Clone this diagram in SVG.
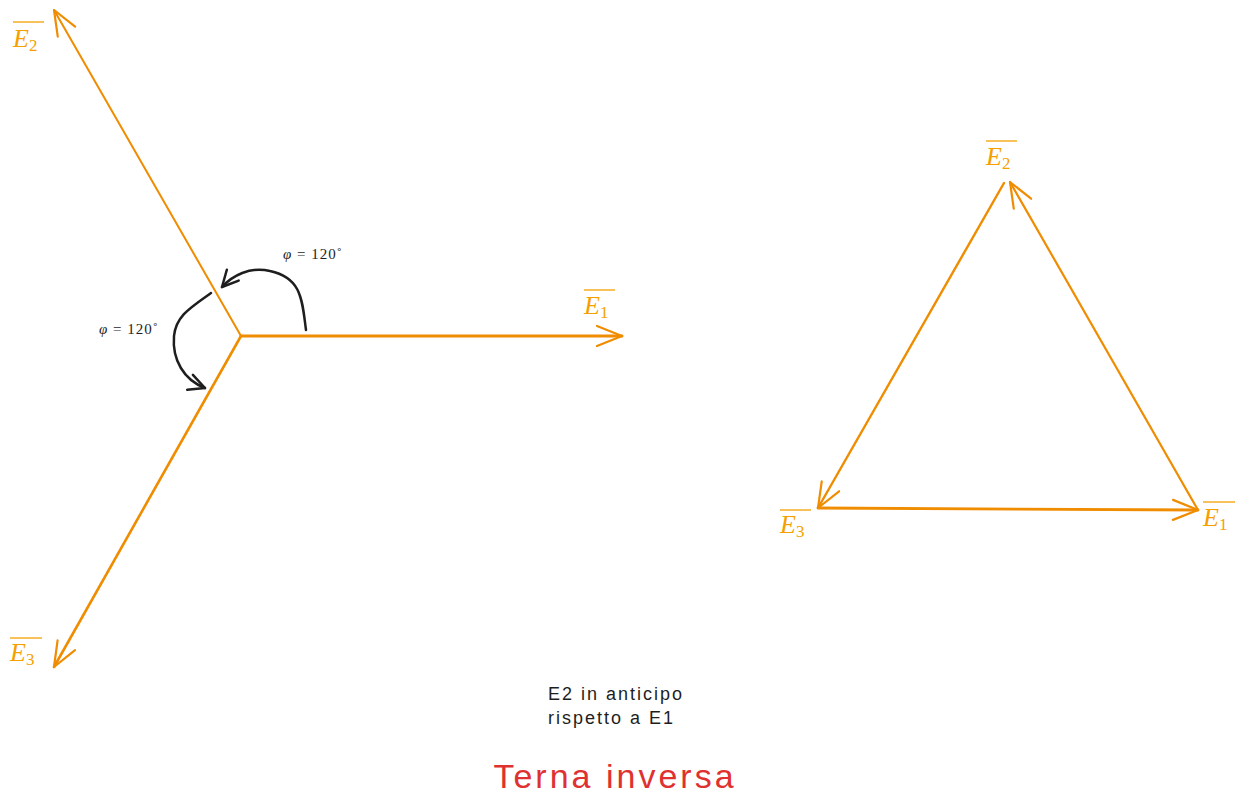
<svg xmlns="http://www.w3.org/2000/svg" width="1245" height="809" viewBox="0 0 1245 809">
<defs>
<marker id="ao" markerUnits="userSpaceOnUse" markerWidth="40" markerHeight="40" viewBox="-30 -20 40 40" refX="0" refY="0" orient="auto" overflow="visible">
<path d="M-25,-10 L0,0 L-25,10" fill="none" stroke="#f08c00" stroke-width="2.2" stroke-linecap="round" stroke-linejoin="round"/>
</marker>
<marker id="ab" markerUnits="userSpaceOnUse" markerWidth="40" markerHeight="40" viewBox="-30 -20 40 40" refX="0" refY="0" orient="auto" overflow="visible">
<path d="M-16,-8 L0,0 L-16,8" fill="none" stroke="#1e1e1e" stroke-width="2.5" stroke-linecap="round" stroke-linejoin="round"/>
</marker>
</defs>
<style>
.v{fill:none;stroke:#f08c00;stroke-linecap:round}
.lab{font-family:"Liberation Serif",serif;fill:#f5a000}
.e{font-style:italic;font-size:26px}
.s{font-size:17px}
.ol{stroke:#f5a000;stroke-width:1.3}
.phi{font-family:"Liberation Serif",serif;font-size:15px;fill:#1e1e1e;letter-spacing:1px}
.hand{font-family:"Liberation Sans",sans-serif;fill:#1e1e1e;font-size:18px;letter-spacing:2px}
</style>
<rect width="1245" height="809" fill="#ffffff"/>
<g id="connectors">
<line class="v" x1="241" y1="336" x2="622" y2="336" stroke-width="3" marker-end="url(#ao)"/>
<line class="v" x1="241" y1="336" x2="54" y2="10" stroke-width="2" marker-end="url(#ao)"/>
<line class="v" x1="241" y1="336" x2="54" y2="667" stroke-width="2.6" marker-end="url(#ao)"/>
<line class="v" x1="1198" y1="510" x2="1010" y2="182" stroke-width="2.2" marker-end="url(#ao)"/>
<line class="v" x1="1004" y1="183" x2="818" y2="508" stroke-width="2.4" marker-end="url(#ao)"/>
<line class="v" x1="818" y1="508" x2="1198" y2="510" stroke-width="2.8" marker-end="url(#ao)"/>
<path d="M306,330 C302,300 302,278 270,271 C250,266 232,276 222,287" fill="none" stroke="#1e1e1e" stroke-width="2.5" stroke-linecap="round" marker-end="url(#ab)"/>
<path d="M211,293 C190,308 176,316 174,336 C172,360 184,380 205,388" fill="none" stroke="#1e1e1e" stroke-width="2.5" stroke-linecap="round" marker-end="url(#ab)"/>
</g>
<g id="label-E2-left">
<line class="ol" x1="13" y1="22" x2="44" y2="22"/>
<text class="lab" x="13" y="47"><tspan class="e">E</tspan><tspan class="s" dy="4">2</tspan></text>
</g>
<g id="label-E1-left">
<line class="ol" x1="584" y1="290" x2="615" y2="290"/>
<text class="lab" x="584" y="314"><tspan class="e">E</tspan><tspan class="s" dy="4">1</tspan></text>
</g>
<g id="label-E3-left">
<line class="ol" x1="10" y1="638" x2="42" y2="638"/>
<text class="lab" x="10" y="661"><tspan class="e">E</tspan><tspan class="s" dy="4">3</tspan></text>
</g>
<g id="label-E2-tri">
<line class="ol" x1="986" y1="141" x2="1017" y2="141"/>
<text class="lab" x="986" y="165"><tspan class="e">E</tspan><tspan class="s" dy="4">2</tspan></text>
</g>
<g id="label-E3-tri">
<line class="ol" x1="780" y1="510" x2="811" y2="510"/>
<text class="lab" x="780" y="533"><tspan class="e">E</tspan><tspan class="s" dy="4">3</tspan></text>
</g>
<g id="label-E1-tri">
<line class="ol" x1="1203" y1="502" x2="1235" y2="502"/>
<text class="lab" x="1203" y="526"><tspan class="e">E</tspan><tspan class="s" dy="4">1</tspan></text>
</g>
<g id="phi-1"><text class="phi" x="283" y="259"><tspan font-style="italic">φ</tspan> = 120˚</text></g>
<g id="phi-2"><text class="phi" x="99" y="334"><tspan font-style="italic">φ</tspan> = 120˚</text></g>
<g id="note">
<text class="hand" x="548" y="700">E2 in anticipo</text>
<text class="hand" x="548" y="724">rispetto a E1</text>
</g>
<g id="title"><text x="615" y="788" font-family="Liberation Sans,sans-serif" font-size="34" letter-spacing="3" fill="#e03131" text-anchor="middle">Terna inversa</text></g>
</svg>
